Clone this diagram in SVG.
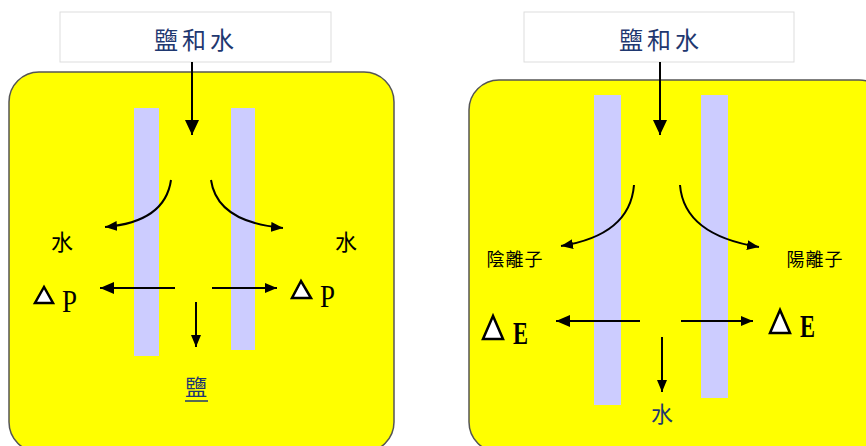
<svg xmlns="http://www.w3.org/2000/svg" width="866" height="446" viewBox="0 0 866 446">
<defs>
<style>
.tank{fill:#ffff00;stroke:#555;stroke-width:1.5}
.box{fill:#fff;stroke:#ddd;stroke-width:1}
.mem{fill:#ccccff}
.ln{fill:none;stroke:#000;stroke-width:2}
.cjk{font-family:"Noto Sans CJK TC","Noto Sans CJK SC",sans-serif;text-anchor:middle}
.blue{fill:#1f3870}
.lat{font-family:"Liberation Serif",serif;fill:#000}
.tri{fill:#fff;stroke:#000;stroke-width:2.5;stroke-linejoin:miter}
</style>
<marker id="ah" markerUnits="userSpaceOnUse" markerWidth="14" markerHeight="12" refX="14" refY="6" orient="auto"><path d="M0,0 L14,6 L0,12 z" fill="#000"/></marker>
<marker id="ahs" markerUnits="userSpaceOnUse" markerWidth="12" markerHeight="10" refX="12" refY="5" orient="auto"><path d="M0,0 L12,5 L0,10 z" fill="#000"/></marker>
<marker id="ahb" markerUnits="userSpaceOnUse" markerWidth="15" markerHeight="14" refX="15" refY="7" orient="auto"><path d="M0,0 L15,7 L0,14 z" fill="#000"/></marker>
</defs>
<rect width="866" height="446" fill="#fff"/>

<g id="tank-left">
<rect class="tank" x="9" y="72" width="385" height="380" rx="30"/>
<rect class="mem" x="134" y="108" width="25" height="248"/>
<rect class="mem" x="231" y="108" width="24" height="242"/>
</g>
<g id="tank-right">
<rect class="tank" x="469" y="80" width="420" height="372" rx="30"/>
<rect class="mem" x="594" y="95" width="27" height="310"/>
<rect class="mem" x="701" y="95" width="27" height="303"/>
</g>

<g id="input-left">
<rect class="box" x="60" y="12" width="271" height="50"/>
<text class="cjk blue" x="196" y="49" font-size="24" letter-spacing="4">鹽和水</text>
</g>
<g id="input-right">
<rect class="box" x="524" y="12" width="270" height="50"/>
<text class="cjk blue" x="661" y="49" font-size="24" letter-spacing="4">鹽和水</text>
</g>

<g id="connectors">
<line class="ln" x1="192" y1="62" x2="192" y2="135" marker-end="url(#ahb)"/>
<path class="ln" d="M171,180 Q165,222 105,227" marker-end="url(#ahs)"/>
<path class="ln" d="M211,180 Q217,222 283,228" marker-end="url(#ahs)"/>
<line class="ln" x1="175" y1="288" x2="100" y2="288" stroke-width="2.5" marker-end="url(#ah)"/>
<line class="ln" x1="212" y1="288" x2="277" y2="288" stroke-width="1.5" stroke="#333" marker-end="url(#ahs)"/>
<line class="ln" x1="196" y1="302" x2="196" y2="347" marker-end="url(#ahs)"/>

<line class="ln" x1="660" y1="62" x2="660" y2="135" marker-end="url(#ahb)"/>
<path class="ln" d="M634,185 Q630,235 561,246" marker-end="url(#ahs)"/>
<path class="ln" d="M680,185 Q684,235 759,247" marker-end="url(#ahs)"/>
<line class="ln" x1="640" y1="321" x2="556" y2="321" stroke-width="2.5" marker-end="url(#ah)"/>
<line class="ln" x1="681" y1="321" x2="753" y2="321" stroke-width="1.5" stroke="#333" marker-end="url(#ahs)"/>
<line class="ln" x1="662" y1="337" x2="662" y2="392" marker-end="url(#ahs)"/>
</g>

<g id="water-left"><text class="cjk" x="62" y="250" font-size="22">水</text></g>
<g id="water-right"><text class="cjk" x="346" y="250" font-size="22">水</text></g>
<g id="dp-left">
<polygon class="tri" points="44,287 35,303 53,303"/>
<text class="lat" x="62" y="312" font-size="31" textLength="15" lengthAdjust="spacingAndGlyphs">P</text>
</g>
<g id="dp-right">
<polygon class="tri" points="301,281 292,298 311,298"/>
<text class="lat" x="320" y="307" font-size="31" textLength="15" lengthAdjust="spacingAndGlyphs">P</text>
</g>
<g id="salt-out">
<text class="cjk blue" x="196" y="395" font-size="22">鹽</text>
<line x1="185" y1="401" x2="208" y2="401" stroke="#1f3870" stroke-width="1.5"/>
</g>

<g id="anion"><text class="cjk" x="515" y="266" font-size="18" letter-spacing="1">陰離子</text></g>
<g id="cation"><text class="cjk" x="815" y="266" font-size="18" letter-spacing="1">陽離子</text></g>
<g id="de-left">
<polygon class="tri" points="493,316 483,339 503,339"/>
<text class="lat" x="513" y="344" font-size="32" font-weight="bold" textLength="15" lengthAdjust="spacingAndGlyphs">E</text>
</g>
<g id="de-right">
<polygon class="tri" points="780,310 770,333 790,333"/>
<text class="lat" x="800" y="337" font-size="32" font-weight="bold" textLength="15" lengthAdjust="spacingAndGlyphs">E</text>
</g>
<g id="water-out"><text class="cjk blue" x="662" y="422" font-size="22">水</text></g>
</svg>
